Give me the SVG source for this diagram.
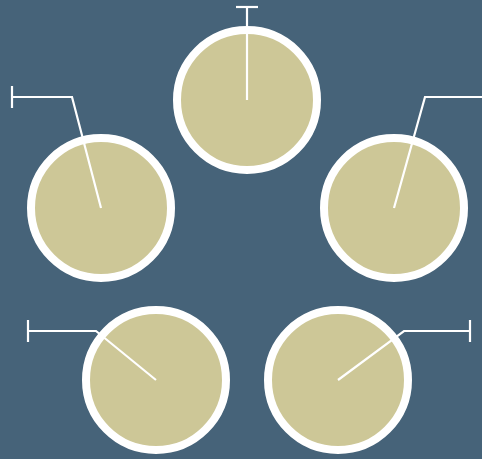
<svg xmlns="http://www.w3.org/2000/svg" width="482" height="459" viewBox="0 0 482 459">
<style>
.n{fill:#cdc797;stroke:#fff;stroke-width:8}
.c{fill:none;stroke:#fff;stroke-width:2.2}
</style>
<rect width="482" height="459" fill="#466379"/>
<g id="node-top"><circle class="n" cx="247" cy="100" r="70"/></g>
<g id="node-left"><circle class="n" cx="101" cy="208" r="70"/></g>
<g id="node-right"><circle class="n" cx="394" cy="208" r="70"/></g>
<g id="node-bottom-left"><circle class="n" cx="156" cy="380" r="70"/></g>
<g id="node-bottom-right"><circle class="n" cx="338" cy="380" r="70"/></g>
<g id="connectors">
<polyline class="c" points="247,100 247,7"/>
<line class="c" x1="236" y1="7" x2="258" y2="7"/>
<polyline class="c" points="101,208 72,97 12,97"/>
<line class="c" x1="12" y1="86" x2="12" y2="108"/>
<polyline class="c" points="394,208 425,97 483,97"/>
<polyline class="c" points="156,380 96,331 28,331"/>
<line class="c" x1="28" y1="320" x2="28" y2="342"/>
<polyline class="c" points="338,380 404,331 470,331"/>
<line class="c" x1="470" y1="320" x2="470" y2="342"/>
</g>
</svg>
